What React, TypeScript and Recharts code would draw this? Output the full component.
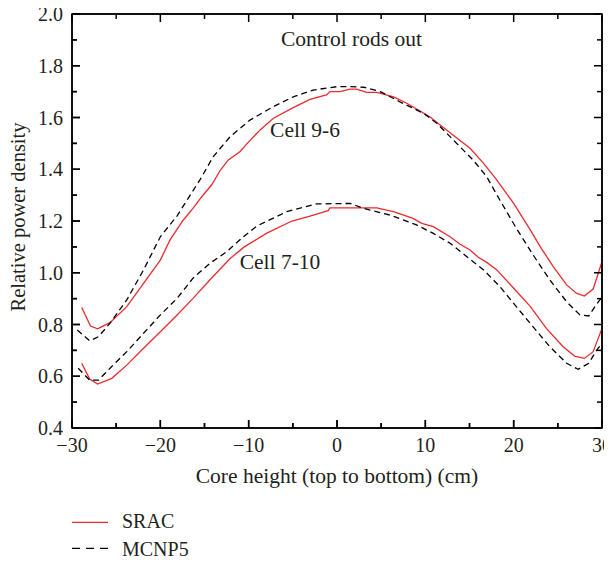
import React from 'react';
import { LineChart, Line, XAxis, YAxis, ReferenceDot, ReferenceLine } from 'recharts';

const sracUpperX = [-28.9, -27.9, -27.1, -25.7, -23.8, -21.9, -20.0, -18.9, -17.4, -16.3, -15.4, -14.2, -13.2, -12.3, -11.0, -10.0, -8.7, -7.2, -4.95, -3.06, -1.2, -0.8, 0.34, 1.47, 2.2, 3.36, 4.5, 6.4, 7.9, 10.5, 12.4, 15.06, 16.6, 18.1, 20.0, 21.9, 23.0, 24.5, 26.0, 27.1, 28.0, 29.0, 30.0];
const sracUpperY = [0.866, 0.794, 0.783, 0.807, 0.869, 0.959, 1.049, 1.127, 1.204, 1.249, 1.29, 1.339, 1.397, 1.436, 1.468, 1.506, 1.552, 1.597, 1.638, 1.670, 1.687, 1.70, 1.70, 1.71, 1.71, 1.697, 1.697, 1.68, 1.655, 1.603, 1.552, 1.481, 1.423, 1.358, 1.268, 1.165, 1.101, 1.023, 0.953, 0.921, 0.910, 0.937, 1.043];

const mcnpUpperX = [-29.4, -28.0, -27.0, -25.7, -23.8, -21.9, -20.0, -18.1, -16.8, -15.5, -14.0, -12.1, -9.85, -7.2, -4.95, -2.7, -0.03, 1.5, 3.0, 4.9, 7.1, 9.8, 11.3, 13.55, 15.4, 16.95, 18.45, 20.3, 22.2, 24.1, 26.0, 27.5, 28.5, 29.2, 30.0];
const mcnpUpperY = [0.779, 0.737, 0.753, 0.805, 0.895, 1.011, 1.139, 1.22, 1.29, 1.36, 1.449, 1.526, 1.59, 1.642, 1.68, 1.706, 1.719, 1.719, 1.717, 1.70, 1.661, 1.616, 1.578, 1.50, 1.436, 1.371, 1.28, 1.172, 1.069, 0.972, 0.888, 0.837, 0.833, 0.869, 0.907];

const sracLowerX = [-28.9, -28.0, -27.1, -25.5, -23.8, -21.9, -20.0, -18.1, -16.3, -14.4, -12.1, -10.5, -8.0, -5.1, -3.06, -1.0, -0.8, 4.5, 6.4, 8.6, 9.6, 10.9, 12.8, 13.9, 15.06, 16.0, 16.95, 18.1, 20.0, 21.9, 23.7, 25.6, 26.9, 28.0, 29.0, 30.0];
const sracLowerY = [0.65, 0.589, 0.570, 0.592, 0.643, 0.708, 0.772, 0.837, 0.901, 0.972, 1.055, 1.10, 1.152, 1.20, 1.219, 1.24, 1.251, 1.251, 1.236, 1.21, 1.191, 1.178, 1.139, 1.111, 1.088, 1.06, 1.04, 1.011, 0.94, 0.869, 0.785, 0.714, 0.678, 0.669, 0.695, 0.785];

const mcnpLowerX = [-29.3, -28.0, -27.0, -25.7, -23.8, -21.9, -20.0, -18.1, -16.3, -14.4, -12.5, -10.6, -9.1, -5.7, -2.3, 1.5, 3.0, 6.0, 9.0, 10.9, 12.8, 14.7, 16.6, 18.45, 20.3, 22.2, 24.1, 26.0, 27.3, 28.5, 29.4, 30.0];
const mcnpLowerY = [0.631, 0.585, 0.585, 0.631, 0.695, 0.766, 0.837, 0.901, 0.979, 1.036, 1.081, 1.139, 1.18, 1.236, 1.266, 1.268, 1.249, 1.223, 1.185, 1.152, 1.114, 1.062, 1.011, 0.946, 0.869, 0.791, 0.714, 0.65, 0.627, 0.65, 0.701, 0.727];

const xTicks = [-30, -25, -20, -15, -10, -5, 0, 5, 10, 15, 20, 25, 30];
const xMajor = [-30, -20, -10, 0, 10, 20, 30];
const yTicks = [0.4, 0.5, 0.6, 0.7, 0.8, 0.9, 1.0, 1.1, 1.2, 1.3, 1.4, 1.5, 1.6, 1.7, 1.8, 1.9, 2.0];
const yMajor = [0.4, 0.6, 0.8, 1.0, 1.2, 1.4, 1.6, 1.8, 2.0];
const xDomain = [-30, 30];
const yDomain = [0.4, 2.0];

const seriesNames = ['SRAC', 'MCNP5'];
const xTitle = 'Core height (top to bottom) (cm)';
const yTitle = 'Relative power density';
const annotations = [
  { x: 1.63, y: 1.907, text: 'Control rods out' },
  { x: -3.62, y: 1.556, text: 'Cell 9-6' },
  { x: -6.45, y: 1.045, text: 'Cell 7-10' },
];

const zip = (xs: number[], ys: number[]) => xs.map((x, i) => ({ x, y: ys[i] }));
const sracUpper = zip(sracUpperX, sracUpperY);
const mcnpUpper = zip(mcnpUpperX, mcnpUpperY);
const sracLower = zip(sracLowerX, sracLowerY);
const mcnpLower = zip(mcnpLowerX, mcnpLowerY);

const FONT = '"Liberation Serif", "Times New Roman", serif';
const TEXT = '#231f20';
const FRAME = 'black';
const RED = '#ee2a2e';

// chart geometry (same numbers feed the LineChart margins/axis sizes)
const W = 604;
const H = 555;
const M = { top: 6, right: 10, bottom: 75, left: 14 };
const Y_AXIS_W = 50;
const X_AXIS_H = 60;
const PL = M.left + Y_AXIS_W;
const PR = W - M.right;
const PT = M.top;
const PB = H - M.bottom - X_AXIS_H;
const sx = (v: number) => PL + ((v - xDomain[0]) / (xDomain[1] - xDomain[0])) * (PR - PL);
const sy = (v: number) => PB - ((v - yDomain[0]) / (yDomain[1] - yDomain[0])) * (PB - PT);

const isMajorX = (v: number) => xMajor.some((m) => Math.abs(m - v) < 1e-6);
const isMajorY = (v: number) => yMajor.some((m) => Math.abs(m - v) < 1e-6);
const fmtX = (v: number) => (v < 0 ? '\u2212' + Math.abs(v) : String(v));

const BottomTick = (p: any) => {
  const v = p.payload.value;
  const major = isMajorX(v);
  return (
    <g>
      <line x1={p.x} x2={p.x} y1={p.y} y2={p.y - (major ? 8 : 5)} stroke={FRAME} strokeWidth={1.5} />
      {major && (
        <text x={p.x} y={p.y + 24} textAnchor="middle" fontFamily={FONT} fontSize={20} fill={TEXT}>
          {fmtX(v)}
        </text>
      )}
    </g>
  );
};
const LeftTick = (p: any) => {
  const v = p.payload.value;
  const major = isMajorY(v);
  return (
    <g>
      <line x1={p.x} x2={p.x + (major ? 8 : 5)} y1={p.y} y2={p.y} stroke={FRAME} strokeWidth={1.5} />
      {major && (
        <text x={p.x - 9} y={p.y + 7} textAnchor="end" fontFamily={FONT} fontSize={20} fill={TEXT}>
          {v.toFixed(1)}
        </text>
      )}
    </g>
  );
};

// frame with inward ticks on all four sides
const Frame = () => (
  <svg width={W} height={H} style={{ position: 'absolute', left: 0, top: 0, pointerEvents: 'none', overflow: 'visible' }}>
    <rect x={PL} y={PT} width={PR - PL} height={PB - PT} fill="none" stroke={FRAME} strokeWidth={1.5} />
    {xTicks.map((v) => {
      const len = isMajorX(v) ? 8 : 5;
      return (
        <g key={'fx' + v}>
          <line x1={sx(v)} x2={sx(v)} y1={PT} y2={PT + len} stroke={FRAME} strokeWidth={1.5} />
          <line x1={sx(v)} x2={sx(v)} y1={PB} y2={PB - len} stroke={FRAME} strokeWidth={1.5} />
        </g>
      );
    })}
    {yTicks.map((v) => {
      const len = isMajorY(v) ? 8 : 5;
      return (
        <g key={'fy' + v}>
          <line x1={PL} x2={PL + len} y1={sy(v)} y2={sy(v)} stroke={FRAME} strokeWidth={1.5} />
          <line x1={PR} x2={PR - len} y1={sy(v)} y2={sy(v)} stroke={FRAME} strokeWidth={1.5} />
        </g>
      );
    })}
  </svg>
);

const LegendBox = () => (
  <svg width={200} height={55} style={{ position: 'absolute', left: 64, top: 500, overflow: 'visible' }}>
    <line x1={0} x2={36} y1={14.3} y2={14.3} stroke={RED} strokeWidth={1.3} />
    <text x={50} y={19.7} fontFamily={FONT} fontSize={20} fill={TEXT}>{seriesNames[0]}</text>
    <line x1={0} x2={36} y1={40.3} y2={40.3} stroke="#000" strokeWidth={1.3} strokeDasharray="8 6" />
    <text x={50} y={48} fontFamily={FONT} fontSize={20} fill={TEXT}>{seriesNames[1]}</text>
  </svg>
);

export default function App() {
  return (
    <div style={{ position: 'relative', width: W, height: H }}>
      <LineChart width={W} height={H} margin={M}>
        <XAxis
          dataKey="x"
          type="number"
          domain={xDomain}
          ticks={xTicks}
          tick={<BottomTick />}
          tickSize={0}
          tickMargin={0}
          tickLine={false}
          stroke={FRAME}
          strokeWidth={1.5}
          height={X_AXIS_H}
          interval={0}
          label={{
            content: () => (
              <text x={329} y={475} textAnchor="middle" fontFamily={FONT} fontSize={21.5} fill={TEXT}>
                {xTitle}
              </text>
            ),
          }}
        />
        <YAxis
          type="number"
          domain={yDomain}
          ticks={yTicks}
          tick={<LeftTick />}
          tickSize={0}
          tickMargin={0}
          tickLine={false}
          stroke={FRAME}
          strokeWidth={1.5}
          width={Y_AXIS_W}
          interval={0}
          label={{
            content: () => (
              <text
                x={10}
                y={209}
                transform="rotate(-90, 10, 209)"
                textAnchor="middle"
                dominantBaseline="central"
                fontFamily={FONT}
                fontSize={20.5}
                fill={TEXT}
              >
                {yTitle}
              </text>
            ),
          }}
        />
        <ReferenceLine y={yDomain[1]} stroke={FRAME} strokeWidth={1.5} ifOverflow="visible" />
        <ReferenceLine x={xDomain[1]} stroke={FRAME} strokeWidth={1.5} ifOverflow="visible" />
        <Line data={sracUpper} dataKey="y" type="linear" stroke={RED} strokeWidth={1.3} dot={false} isAnimationActive={false} name={seriesNames[0]} />
        <Line data={mcnpUpper} dataKey="y" type="linear" stroke="#000" strokeWidth={1.3} strokeDasharray="6 4" dot={false} isAnimationActive={false} name={seriesNames[1]} />
        <Line data={sracLower} dataKey="y" type="linear" stroke={RED} strokeWidth={1.3} dot={false} isAnimationActive={false} />
        <Line data={mcnpLower} dataKey="y" type="linear" stroke="#000" strokeWidth={1.3} strokeDasharray="6 4" dot={false} isAnimationActive={false} />
        {annotations.map((a) => (
          <ReferenceDot
            key={a.text}
            x={a.x}
            y={a.y}
            r={0}
            fill="none"
            stroke="none"
            label={{ value: a.text, position: 'center', fontFamily: FONT, fontSize: 21.5, fill: TEXT }}
          />
        ))}
      </LineChart>
      <Frame />
      <LegendBox />
    </div>
  );
}
